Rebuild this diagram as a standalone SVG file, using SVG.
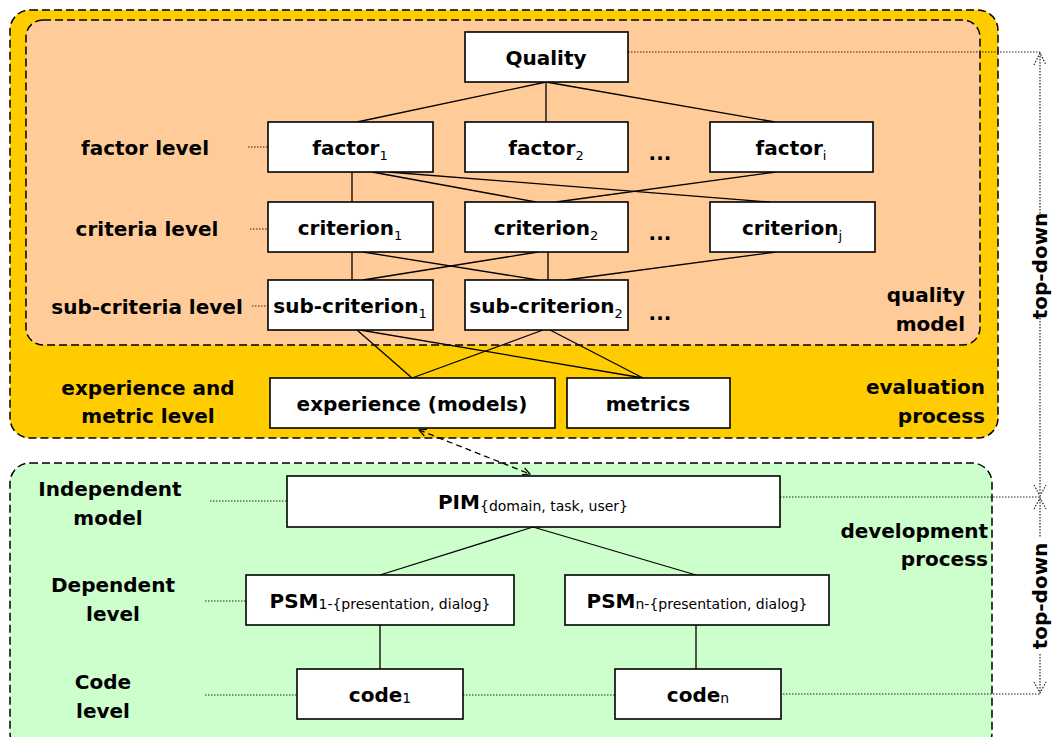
<svg xmlns="http://www.w3.org/2000/svg" width="1054" height="737" viewBox="0 0 1054 737">
<style>
.node rect{fill:#fff;stroke:#000;stroke-width:1.6}
.t{font-family:"DejaVu Sans","Liberation Sans",sans-serif;font-weight:bold;font-size:20px;fill:#000}
.tm{text-anchor:middle}
.te{text-anchor:end}
.sub{font-weight:normal;font-size:13px}
.small{font-weight:normal;font-size:14px}
.conn line{stroke:#000;stroke-width:1.3}
.dot{stroke:#222;stroke-width:1.2;stroke-dasharray:1.5 1.5;fill:none}
.frame{stroke:#000;stroke-width:1.5;stroke-dasharray:8 4}
</style>
<defs>
<marker id="oa" viewBox="0 0 10 10" refX="9" refY="5" markerWidth="9" markerHeight="9" orient="auto-start-reverse" markerUnits="userSpaceOnUse">
<polyline points="1,1 9,5 1,9" fill="none" stroke="#000" stroke-width="1.3"/>
</marker>
</defs>
<rect width="1054" height="737" fill="#fff"/>
<g id="evaluation-process">
<rect class="frame" x="10" y="10" width="988" height="428" rx="20" fill="#FFCC00"/>
<text class="t te" x="985" y="394">evaluation</text>
<text class="t te" x="985" y="423">process</text>
</g>
<g id="quality-model">
<rect class="frame" x="26" y="20" width="954" height="325" rx="17" fill="#FFCC99"/>
<text class="t te" x="965" y="302">quality</text>
<text class="t te" x="965" y="331">model</text>
</g>
<g id="development-process">
<rect class="frame" x="10" y="463" width="982" height="290" rx="20" fill="#CCFFCC"/>
<text class="t te" x="988" y="538">development</text>
<text class="t te" x="988" y="566">process</text>
</g>
<g id="level-labels">
<text class="t tm" x="145" y="155">factor level</text>
<text class="t tm" x="147" y="236">criteria level</text>
<text class="t tm" x="147" y="314">sub-criteria level</text>
<text class="t tm" x="148" y="395">experience and</text>
<text class="t tm" x="148" y="423">metric level</text>
<text class="t tm" x="110" y="496">Independent</text>
<text class="t tm" x="108" y="525">model</text>
<text class="t tm" x="113" y="592">Dependent</text>
<text class="t tm" x="113" y="621">level</text>
<text class="t tm" x="103" y="689">Code</text>
<text class="t tm" x="103" y="718">level</text>
<text class="t tm" x="660" y="160">...</text>
<text class="t tm" x="660" y="240">...</text>
<text class="t tm" x="660" y="320">...</text>
</g>
<g id="connectors">
<g class="conn">
<line x1="546" y1="82" x2="357" y2="122"/>
<line x1="546" y1="82" x2="546" y2="122"/>
<line x1="546" y1="82" x2="775" y2="122"/>
<line x1="352" y1="172" x2="352" y2="202"/>
<line x1="372" y1="172" x2="536" y2="202"/>
<line x1="388" y1="172" x2="770" y2="202"/>
<line x1="776" y1="172" x2="556" y2="202"/>
<line x1="352" y1="252" x2="352" y2="280"/>
<line x1="363" y1="252" x2="538" y2="280"/>
<line x1="538" y1="252" x2="363" y2="280"/>
<line x1="548" y1="252" x2="548" y2="280"/>
<line x1="776" y1="252" x2="566" y2="280"/>
<line x1="357" y1="330" x2="412" y2="378"/>
<line x1="360" y1="330" x2="643" y2="378"/>
<line x1="543" y1="330" x2="412" y2="378"/>
<line x1="550" y1="330" x2="643" y2="378"/>
<line x1="533" y1="527" x2="380" y2="575"/>
<line x1="533" y1="527" x2="696" y2="575"/>
<line x1="380" y1="625" x2="380" y2="669"/>
<line x1="696" y1="625" x2="696" y2="669"/>
</g>
<line x1="419" y1="430" x2="530" y2="474" stroke="#000" stroke-width="1.3" stroke-dasharray="6 4" marker-start="url(#oa)" marker-end="url(#oa)"/>
<line class="dot" x1="248" y1="147" x2="268" y2="147"/>
<line class="dot" x1="250" y1="229" x2="268" y2="229"/>
<line class="dot" x1="252" y1="306" x2="268" y2="306"/>
<line class="dot" x1="210" y1="501" x2="287" y2="501"/>
<line class="dot" x1="205" y1="601" x2="246" y2="601"/>
<line class="dot" x1="205" y1="695" x2="297" y2="695"/>
<line class="dot" x1="463" y1="695" x2="615" y2="695"/>
<line class="dot" x1="780" y1="694" x2="1040" y2="694"/>
<line class="dot" x1="780" y1="497" x2="1040" y2="497"/>
<line class="dot" x1="628" y1="52" x2="1040" y2="52"/>
<line class="dot" x1="1040" y1="53" x2="1040" y2="214"/>
<line class="dot" x1="1040" y1="318" x2="1040" y2="495"/>
<line class="dot" x1="1040" y1="499" x2="1040" y2="538"/>
<line class="dot" x1="1040" y1="654" x2="1040" y2="693"/>
<polyline class="dot" points="1034,65 1040,53 1046,65"/>
<polyline class="dot" points="1034,485 1040,496 1046,485"/>
<polyline class="dot" points="1034,509 1040,498 1046,509"/>
<polyline class="dot" points="1034,682 1040,693 1046,682"/>
<text class="t tm" transform="translate(1047,266) rotate(-90)" font-size="19">top-down</text>
<text class="t tm" transform="translate(1047,596) rotate(-90)" font-size="19">top-down</text>
</g>
<g id="n-quality" class="node"><rect x="465" y="32" width="163" height="50"/><text class="t tm" x="546" y="65">Quality</text></g>
<g id="n-factor1" class="node"><rect x="268" y="122" width="165" height="50"/><text class="t tm" x="350" y="155">factor<tspan class="sub" dy="5">1</tspan></text></g>
<g id="n-factor2" class="node"><rect x="465" y="122" width="163" height="50"/><text class="t tm" x="546" y="155">factor<tspan class="sub" dy="5">2</tspan></text></g>
<g id="n-factori" class="node"><rect x="710" y="122" width="163" height="50"/><text class="t tm" x="791" y="155">factor<tspan class="sub" dy="5">i</tspan></text></g>
<g id="n-criterion1" class="node"><rect x="268" y="202" width="165" height="50"/><text class="t tm" x="350" y="235">criterion<tspan class="sub" dy="5">1</tspan></text></g>
<g id="n-criterion2" class="node"><rect x="465" y="202" width="163" height="50"/><text class="t tm" x="546" y="235">criterion<tspan class="sub" dy="5">2</tspan></text></g>
<g id="n-criterionj" class="node"><rect x="710" y="202" width="165" height="50"/><text class="t tm" x="792" y="235">criterion<tspan class="sub" dy="5">j</tspan></text></g>
<g id="n-subcriterion1" class="node"><rect x="268" y="280" width="165" height="50"/><text class="t tm" x="350" y="313">sub-criterion<tspan class="sub" dy="5">1</tspan></text></g>
<g id="n-subcriterion2" class="node"><rect x="465" y="280" width="163" height="50"/><text class="t tm" x="546" y="313">sub-criterion<tspan class="sub" dy="5">2</tspan></text></g>
<g id="n-experience" class="node"><rect x="270" y="378" width="285" height="50"/><text class="t tm" x="412" y="411">experience (models)</text></g>
<g id="n-metrics" class="node"><rect x="567" y="378" width="163" height="50"/><text class="t tm" x="648" y="411">metrics</text></g>
<g id="n-pim" class="node"><rect x="287" y="476" width="493" height="51"/><text class="t tm" x="533" y="509">PIM<tspan class="small" font-size="13" dy="2">{domain, task, user}</tspan></text></g>
<g id="n-psm1" class="node"><rect x="246" y="575" width="268" height="50"/><text class="t tm" x="380" y="608">PSM<tspan class="small" dy="1">1-{presentation, dialog}</tspan></text></g>
<g id="n-psmn" class="node"><rect x="565" y="575" width="264" height="50"/><text class="t tm" x="697" y="608">PSM<tspan class="small" dy="1">n-{presentation, dialog}</tspan></text></g>
<g id="n-code1" class="node"><rect x="297" y="669" width="166" height="50"/><text class="t tm" x="380" y="702">code<tspan class="small" dy="1">1</tspan></text></g>
<g id="n-coden" class="node"><rect x="615" y="669" width="166" height="50"/><text class="t tm" x="698" y="702">code<tspan class="small" dy="1">n</tspan></text></g>
</svg>
